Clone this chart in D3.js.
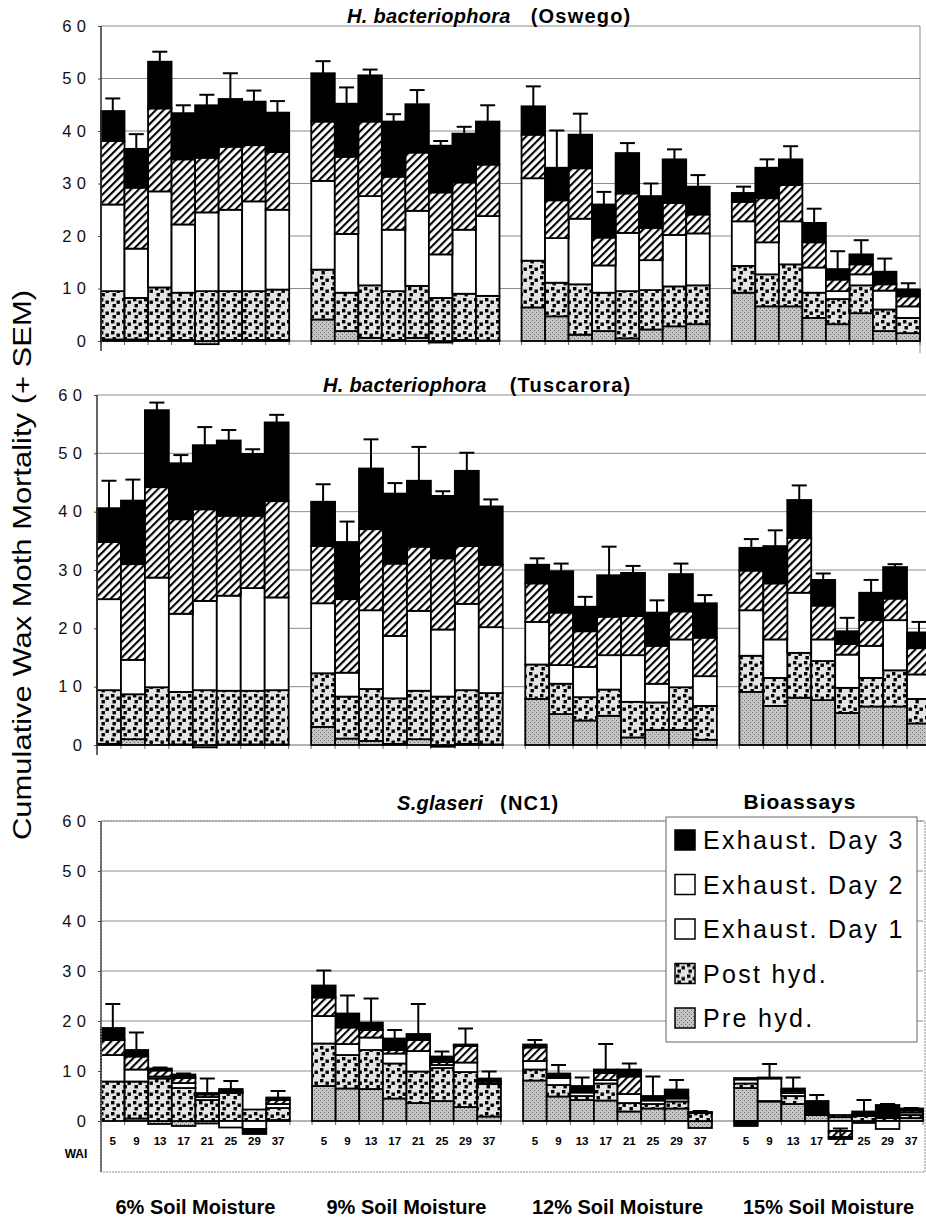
<!DOCTYPE html>
<html>
<head>
<meta charset="utf-8">
<script src="https://d3js.org/d3.v7.min.js"></script>
<style>
    body { margin: 0; background: #fff; }
    svg { display: block; font-family: Arial, "Liberation Sans", Helvetica, sans-serif; }
</style>
</head>
<body>
<div id="chart"></div>
<script>
// categories
var groups = ["6% Soil Moisture", "9% Soil Moisture", "12% Soil Moisture", "15% Soil Moisture"];
var wai = [5, 9, 13, 17, 21, 25, 29, 37];
var seriesKeys = ["pre", "post", "day1", "day2", "day3"];
var yTicks = [0, 10, 20, 30, 40, 50, 60];

// H. bacteriophora (Oswego): 4 moisture groups x 8 WAI, increments per stage
var oswegoPre  = [0.3,0.3,0,0.2,-0.6,0.2,0.2,0.2,  4.1,1.9,0.6,0.2,0.6,-0.3,0.2,0.1,  6.4,4.7,1.2,1.9,0.5,2.2,2.8,3.2,  9.2,6.6,6.6,4.4,3.2,5.3,1.9,1.5];
var oswegoPost = [9.2,7.9,10.2,9.0,9.5,9.3,9.3,9.6,  9.5,7.3,10.0,9.3,9.9,8.2,8.8,8.5,  8.9,6.4,9.6,7.3,9.0,7.5,7.6,7.4,  5.1,6.1,8.0,4.8,4.8,5.3,4.1,2.9];
var oswegoDay1 = [16.5,9.4,18.3,13.0,15.0,15.5,17.1,15.2,  16.9,11.2,17.0,11.7,14.3,8.3,12.2,15.2,  15.7,8.5,12.5,5.2,11.1,5.7,9.8,9.9,  8.5,6.1,8.2,4.8,1.5,2.1,3.6,2.2];
var oswegoDay2 = [12.1,11.6,15.8,12.4,10.4,12.0,10.7,11.0,  11.3,14.7,14.2,10.1,11.1,11.8,9.0,9.8,  8.3,7.2,9.6,5.3,7.5,6.1,6.1,3.6,  3.7,8.4,6.9,4.8,2.2,1.9,1.2,1.9];
var oswegoDay3 = [5.7,7.4,8.9,8.8,10.0,9.1,8.3,7.5,  9.2,10.1,8.8,10.5,9.2,8.9,9.3,8.2,  5.4,6.2,6.4,6.3,7.7,6.1,8.3,5.3,  1.7,5.8,4.9,3.7,2.0,1.9,2.4,1.3];
var oswegoSem  = [2.4,2.8,1.9,1.5,2.0,4.9,2.1,2.2,  2.3,3.1,1.1,1.4,2.7,0.9,1.3,3.1,  3.8,7.1,4.0,2.4,1.9,2.4,1.9,2.2,  1.2,1.6,2.5,2.7,3.4,2.7,2.5,1.2];

// H. bacteriophora (Tuscarora)
var tuscaroraPre  = [0.2,1.0,0,0.1,-0.4,0.1,0.1,0.1,  3.1,1.1,0.7,0.2,1.0,-0.3,0.2,0.1,  7.9,5.3,4.2,5.0,1.3,2.6,2.6,0.9,  9.1,6.7,8.1,7.7,5.5,6.6,6.6,3.7];
var tuscaroraPost = [9.2,7.7,9.9,9.0,9.4,9.2,9.2,9.3,  9.2,7.2,8.9,7.8,8.3,8.3,9.2,8.8,  5.9,5.2,4.0,4.5,6.1,4.7,7.3,5.8,  6.2,4.8,7.7,6.7,4.3,4.9,6.2,4.2];
var tuscaroraDay1 = [15.6,5.9,18.8,13.4,15.3,16.3,17.6,15.9,  12.0,4.1,13.5,10.7,13.7,11.5,14.8,11.3,  7.3,3.2,5.2,5.9,8.0,3.2,8.2,5.1,  7.8,6.6,10.3,3.7,5.7,5.5,8.6,4.2];
var tuscaroraDay2 = [9.8,16.4,15.5,16.2,15.7,13.7,12.4,16.5,  9.8,12.6,13.9,12.4,11.0,12.2,9.9,10.7,  6.6,9.0,6.1,6.6,6.7,6.5,4.8,6.6,  6.8,9.6,9.4,5.8,1.8,4.4,3.7,4.5];
var tuscaroraDay3 = [5.8,10.9,13.2,9.6,11.0,12.9,10.6,13.5,  7.6,9.8,10.4,12.0,11.3,10.7,12.9,10.0,  3.2,7.1,4.2,7.1,7.4,5.7,6.4,5.9,  3.9,6.4,6.5,4.4,2.2,4.7,5.4,2.7];
var tuscaroraSem  = [4.7,3.6,1.3,1.4,3.1,1.8,0.8,1.3,  3.0,3.5,5.0,1.8,5.8,0.8,3.1,1.2,  1.1,1.3,1.7,4.9,1.2,2.1,1.8,1.4,  1.5,2.7,2.5,1.1,2.3,2.2,0.5,1.8];

// S. glaseri (NC1)
var glaseriPre  = [0,0.5,-0.6,-1.0,-0.5,0,0,0.2,  7.0,6.5,6.4,4.5,3.6,4.0,2.8,0.9,  8.1,4.9,4.2,4.1,1.9,2.5,2.5,-1.4,  6.6,3.9,3.4,1.2,0.8,-0.4,0,0.6];
var glaseriPost = [7.9,7.4,8.5,6.6,4.2,5.6,2.3,2.4,  8.5,6.7,7.8,7.0,6.3,6.6,7.0,6.5,  2.2,2.3,0.8,3.4,1.7,0.9,1.4,1.6,  0.9,0.1,1.6,0.1,0.4,1.0,0.6,0.6];
var glaseriDay1 = [5.3,2.4,0.4,1.0,0.6,-1.3,-1.6,0.8,  5.5,2.2,2.5,2.0,4.1,0.6,1.9,0.2,  1.7,1.4,0.7,0.7,1.8,0.7,0.6,0,  0.8,4.5,0.6,0.1,-2.0,0.3,-1.6,0.5];
var glaseriDay2 = [3.0,2.6,1.2,1.0,0.5,0.3,0,0.8,  3.7,3.3,1.5,0.7,2.2,0.6,3.3,0.4,  2.7,0.1,0.1,1.4,3.5,0.2,0.3,0.1,  0.3,0.1,0.4,0.1,-1.2,0.2,0.2,0.4];
var glaseriDay3 = [2.4,1.3,0.4,0.7,0.3,0.5,-1.0,0.5,  2.4,2.8,1.5,2.3,1.2,1.1,0.3,0.5,  0.6,0.8,1.2,0.7,1.4,0.7,1.5,0.1,  -1.0,0.1,0.5,2.5,-0.4,0.4,2.4,0.4];
var glaseriSem  = [4.8,3.5,0.2,0.2,2.9,1.6,0,1.3,  3.0,3.6,4.8,1.7,6.0,1.0,3.2,1.4,  0.9,1.7,1.7,5.1,1.2,3.9,1.9,0.2,  0.3,2.7,2.2,1.2,2.1,2.3,0.2,0.1];

var legendLabels = ["Exhaust. Day 3", "Exhaust. Day 2", "Exhaust. Day 1", "Post hyd.", "Pre hyd."];
var legendFills = ["#000", "#fff", "#fff", "url(#post)", "url(#pre)"];

var fills = { pre: "url(#pre)", post: "url(#post)", day1: "#fff", day2: "url(#hatch)", day3: "#000" };

var width = 926, height = 1221;
var svg = d3.select("#chart").append("svg")
    .attr("width", width)
    .attr("height", height);

// fill patterns that imitate the print
var defs = svg.append("defs");

var pre = defs.append("pattern").attr("id", "pre")
    .attr("patternUnits", "userSpaceOnUse").attr("width", 4).attr("height", 4);
pre.append("rect").attr("width", 4).attr("height", 4).attr("fill", "#c4c4c4");
pre.append("rect").attr("x", 0).attr("y", 0).attr("width", 1).attr("height", 1).attr("fill", "#6e6e6e");
pre.append("rect").attr("x", 2).attr("y", 2).attr("width", 1).attr("height", 1).attr("fill", "#6e6e6e");

var post = defs.append("pattern").attr("id", "post")
    .attr("patternUnits", "userSpaceOnUse").attr("width", 11).attr("height", 11);
post.append("rect").attr("width", 11).attr("height", 11).attr("fill", "#e4e4e4");
[[1, 1], [6.5, 3.5], [2.5, 7]].forEach(function(p) {
    post.append("rect").attr("x", p[0]).attr("y", p[1]).attr("width", 3.4).attr("height", 3.4).attr("fill", "#000");
});

var hatch = defs.append("pattern").attr("id", "hatch")
    .attr("patternUnits", "userSpaceOnUse").attr("width", 5.5).attr("height", 5.5)
    .attr("patternTransform", "rotate(45)");
hatch.append("rect").attr("width", 5.5).attr("height", 5.5).attr("fill", "#fff");
hatch.append("rect").attr("width", 2.1).attr("height", 5.5).attr("fill", "#000");

var panels = [
    { italic: "H. bacteriophora", plain: "(Oswego)", gap: 20, titleX: 347, titleY: 23,
      left: 101, right: 920, top: 26, zero: 341, frameRight: true,
      pre: oswegoPre, post: oswegoPost, day1: oswegoDay1, day2: oswegoDay2, day3: oswegoDay3, sem: oswegoSem },
    { italic: "H. bacteriophora", plain: "(Tuscarora)", gap: 23, titleX: 323, titleY: 392,
      left: 97, right: 931, top: 395, zero: 745, frameRight: false,
      pre: tuscaroraPre, post: tuscaroraPost, day1: tuscaroraDay1, day2: tuscaroraDay2, day3: tuscaroraDay3, sem: tuscaroraSem },
    { italic: "S.glaseri", plain: "(NC1)", gap: 17, titleX: 397, titleY: 810,
      left: 101, right: 923, top: 821, zero: 1121, frameRight: false,
      pre: glaseriPre, post: glaseriPost, day1: glaseriDay1, day2: glaseriDay2, day3: glaseriDay3, sem: glaseriSem }
];

var stack = d3.stack().keys(seriesKeys).offset(d3.stackOffsetDiverging);

function drawPanel(p, idx) {
    var rows = d3.range(32).map(function(i) {
        return { group: groups[Math.floor(i / 8)], wai: wai[i % 8],
                 pre: p.pre[i], post: p.post[i], day1: p.day1[i], day2: p.day2[i], day3: p.day3[i], sem: p.sem[i] };
    });

    var xg = d3.scaleBand().domain(groups).range([p.left, p.right]).paddingInner(0.105);
    var xw = d3.scaleBand().domain(wai).range([0, xg.bandwidth()]);
    var y = d3.scaleLinear().domain([0, 60]).range([p.zero, p.top]);
    var bw = xw.bandwidth();

    var g = svg.append("g").attr("class", "panel");

    // gridlines
    g.append("g").selectAll("line")
        .data(yTicks.filter(function(t) { return t > 0; }))
        .enter().append("line")
        .attr("x1", p.left).attr("x2", Math.min(p.right, 926))
        .attr("y1", function(d) { return y(d); }).attr("y2", function(d) { return y(d); })
        .attr("stroke", "#8c8c8c").attr("stroke-width", 1);

    if (p.frameRight) {
        g.append("line").attr("x1", p.right).attr("x2", p.right)
            .attr("y1", y(60)).attr("y2", p.zero + 12)
            .attr("stroke", "#8c8c8c").attr("stroke-width", 1);
    }

    // zero line and small ticks at bar edges
    g.append("line").attr("x1", p.left).attr("x2", Math.min(p.right, 926))
        .attr("y1", y(0)).attr("y2", y(0)).attr("stroke", "#666").attr("stroke-width", 1);
    var edges = [];
    groups.forEach(function(gr) {
        wai.forEach(function(w) { edges.push(xg(gr) + xw(w)); });
        edges.push(xg(gr) + xg.bandwidth());
    });
    g.append("g").selectAll("line").data(edges).enter().append("line")
        .attr("x1", function(d) { return d; }).attr("x2", function(d) { return d; })
        .attr("y1", y(0)).attr("y2", y(0) + 4)
        .attr("stroke", "#666").attr("stroke-width", 1);

    // stacked bars
    var layers = stack(rows);
    g.append("g").selectAll("g")
        .data(layers)
        .enter().append("g")
        .attr("fill", function(d) { return fills[d.key]; })
        .selectAll("rect")
        .data(function(d) { return d.filter(function(s) { return s[1] !== s[0]; }); })
        .enter().append("rect")
        .attr("x", function(d) { return xg(d.data.group) + xw(d.data.wai); })
        .attr("width", bw)
        .attr("y", function(d) { return y(d[1]); })
        .attr("height", function(d) { return y(d[0]) - y(d[1]); })
        .attr("stroke", "#000").attr("stroke-width", 1.8);

    // error bars (+ SEM) from the end of the Day 3 segment
    var err = g.append("g").attr("stroke", "#000").attr("stroke-width", 2)
        .selectAll("g").data(rows.filter(function(d) { return d.sem > 0; }))
        .enter().append("g");
    function base(d) {
        var pos = 0, neg = 0;
        seriesKeys.forEach(function(k) { if (d[k] > 0) pos += d[k]; else neg += d[k]; });
        return d.day3 < 0 ? neg : pos;
    }
    err.append("line")
        .attr("x1", function(d) { return xg(d.group) + xw(d.wai) + bw / 2; })
        .attr("x2", function(d) { return xg(d.group) + xw(d.wai) + bw / 2; })
        .attr("y1", function(d) { return y(base(d)); })
        .attr("y2", function(d) { return y(base(d) + d.sem); });
    err.append("line")
        .attr("x1", function(d) { return xg(d.group) + xw(d.wai) + bw / 2 - 7.5; })
        .attr("x2", function(d) { return xg(d.group) + xw(d.wai) + bw / 2 + 7.5; })
        .attr("y1", function(d) { return y(base(d) + d.sem); })
        .attr("y2", function(d) { return y(base(d) + d.sem); });

    // left axis
    var yAxis = d3.axisLeft(y).tickValues(yTicks).tickSize(3).tickPadding(6.5);
    var ax = g.append("g").attr("transform", "translate(" + p.left + ",0)").call(yAxis);
    ax.select(".domain").remove();
    ax.selectAll(".tick line").attr("stroke", "#444");
    ax.selectAll("text")
        .attr("font-size", 16.5)
        .attr("letter-spacing", 5.5)
        .attr("fill", "#111")
        .attr("font-family", "Arial, 'Liberation Sans', sans-serif");
    g.append("line").attr("x1", p.left).attr("x2", p.left)
        .attr("y1", y(60)).attr("y2", idx === 2 ? 1172 : y(0) + 10)
        .attr("stroke", "#333").attr("stroke-width", 1.5);

    // title
    var t = g.append("text").attr("x", p.titleX).attr("y", p.titleY)
        .attr("font-size", 20).attr("font-weight", "bold").attr("fill", "#000");
    t.append("tspan").attr("font-style", "italic").attr("letter-spacing", 0.3).text(p.italic);
    t.append("tspan").attr("dx", p.gap).attr("letter-spacing", 1.2).text(p.plain);

    return { xg: xg, xw: xw, y: y };
}

var scales = panels.map(drawPanel);

// bottom panel frame
var s3 = scales[2];
svg.append("rect").attr("x", 101).attr("y", 821).attr("width", 824).attr("height", 351)
    .attr("fill", "none").attr("stroke", "#8c8c8c").attr("stroke-width", 1)
    .attr("stroke-dasharray", "2,1");

// WAI labels under bottom panel
var waiG = svg.append("g").attr("font-size", 11.5).attr("font-weight", "bold").attr("text-anchor", "middle");
groups.forEach(function(gr) {
    wai.forEach(function(w) {
        waiG.append("text")
            .attr("x", s3.xg(gr) + s3.xw(w) + s3.xw.bandwidth() / 2)
            .attr("y", 1145)
            .text(w);
    });
});
svg.append("text").attr("x", 76).attr("y", 1158).attr("text-anchor", "middle")
    .attr("font-size", 12).attr("font-weight", "bold").text("WAI");

// moisture labels
svg.append("g").selectAll("text").data(groups).enter().append("text")
    .attr("x", function(d) { return s3.xg(d) + s3.xg.bandwidth() / 2; })
    .attr("y", 1214)
    .attr("text-anchor", "middle")
    .attr("font-size", 20).attr("font-weight", "bold")
    .text(function(d) { return d; });

// legend
svg.append("text").attr("x", 800).attr("y", 809).attr("text-anchor", "middle")
    .attr("font-size", 21).attr("font-weight", "bold").attr("letter-spacing", 1)
    .text("Bioassays");
var leg = svg.append("g");
leg.append("rect").attr("x", 666).attr("y", 817).attr("width", 251).attr("height", 225)
    .attr("fill", "#fff").attr("stroke", "#666").attr("stroke-width", 1);
var items = leg.selectAll("g.item").data(legendLabels).enter().append("g")
    .attr("class", "item")
    .attr("transform", function(d, i) { return "translate(675," + (840 + i * 44.5) + ")"; });
items.append("rect").attr("x", 0).attr("y", -10).attr("width", 20).attr("height", 20)
    .attr("fill", function(d, i) { return legendFills[i]; })
    .attr("stroke", "#000").attr("stroke-width", 1.5);
items.append("text").attr("x", 28).attr("y", 9)
    .attr("font-size", 25).attr("letter-spacing", 2.3)
    .text(function(d) { return d; });

// y title
svg.append("text")
    .attr("transform", "translate(31,565)rotate(-90)")
    .attr("text-anchor", "middle")
    .attr("font-family", "'Liberation Sans Narrow', 'Arial Narrow', Arial, sans-serif")
    .attr("font-size", 26)
    .attr("textLength", 550)
    .attr("lengthAdjust", "spacingAndGlyphs")
    .text("Cumulative Wax Moth Mortality (+ SEM)");
</script>
</body>
</html>
